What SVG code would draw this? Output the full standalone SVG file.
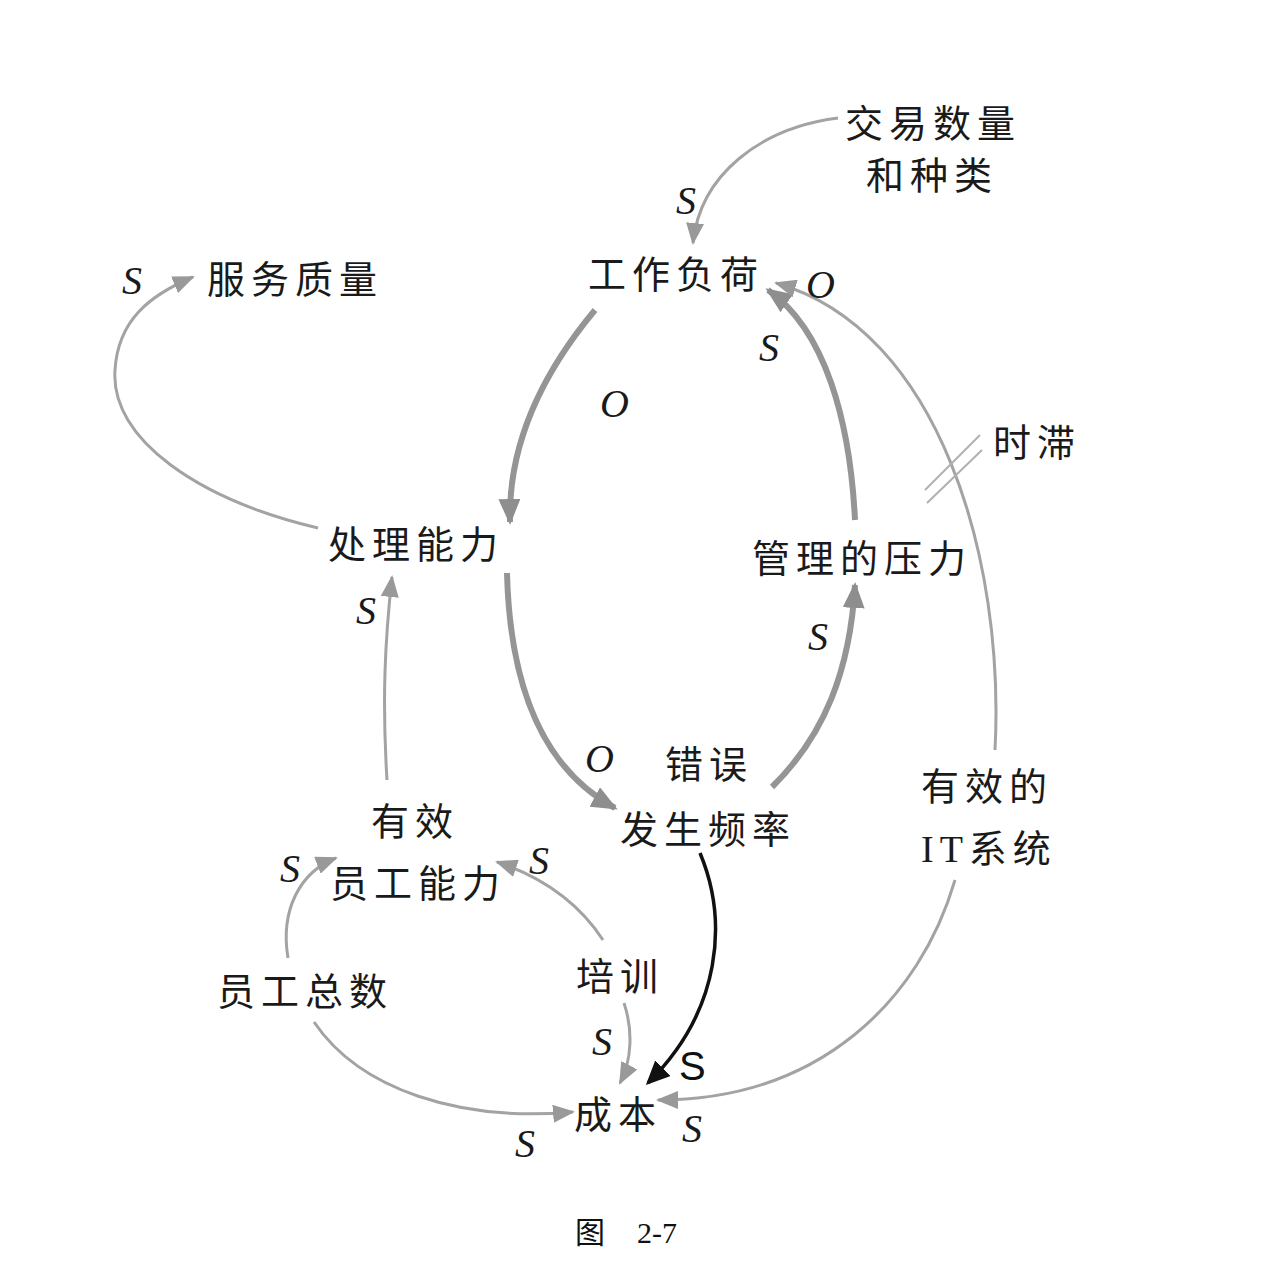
<svg xmlns="http://www.w3.org/2000/svg" width="1278" height="1270" viewBox="0 0 1278 1270">
<style>
.t{font-family:"Liberation Serif","Noto Sans CJK SC",serif;font-size:38px;letter-spacing:6px;fill:#1a1a1a}
.p{font-family:"Liberation Serif",serif;font-style:italic;font-size:40px;fill:#1a1a1a}
.thin{fill:none;stroke:#a3a3a3;stroke-width:3}
.thick{fill:none;stroke:#959595;stroke-width:6}
.blk{fill:none;stroke:#111;stroke-width:3.5}
.cap{font-family:"Liberation Serif","Noto Sans CJK SC",serif;font-size:30px;fill:#111}
</style>
<defs>
<marker id="a1" viewBox="0 0 22 18" refX="20" refY="9" markerWidth="22" markerHeight="18" markerUnits="userSpaceOnUse" orient="auto"><path d="M0,0 L22,9 L0,18 z" fill="#999"/></marker>
<marker id="a2" viewBox="0 0 26 22" refX="23" refY="11" markerWidth="26" markerHeight="22" markerUnits="userSpaceOnUse" orient="auto"><path d="M0,0 L26,11 L0,22 z" fill="#8e8e8e"/></marker>
<marker id="a3" viewBox="0 0 24 22" refX="21" refY="11" markerWidth="24" markerHeight="22" markerUnits="userSpaceOnUse" orient="auto"><path d="M0,0 L24,11 L0,22 z" fill="#111"/></marker>
</defs>
<rect width="1278" height="1270" fill="#fff"/>
<g id="connectors">
<path class="thin" d="M838,118 C760,128 700,175 693,243" marker-end="url(#a1)"/>
<path class="thick" d="M595,310 C545,370 508,440 510,522" marker-end="url(#a2)"/>
<path class="thick" d="M507,573 C510,690 545,770 615,808" marker-end="url(#a2)"/>
<path class="thick" d="M772,787 C825,735 850,670 855,585" marker-end="url(#a2)"/>
<path class="thick" d="M855,520 C850,420 825,330 768,290" marker-end="url(#a2)"/>
<path class="thin" d="M995,750 C1005,560 940,330 776,283" marker-end="url(#a1)"/>
<path class="thin" d="M318,528 C200,500 110,440 115,370 C118,320 150,295 193,277" marker-end="url(#a1)"/>
<path class="thin" d="M387,780 C382,700 385,640 392,577" marker-end="url(#a1)"/>
<path class="thin" d="M288,958 C280,910 300,872 336,858" marker-end="url(#a1)"/>
<path class="thin" d="M603,940 C580,905 545,878 497,862" marker-end="url(#a1)"/>
<path class="thin" d="M624,1003 C633,1030 632,1060 620,1083" marker-end="url(#a1)"/>
<path class="blk" d="M700,853 C728,920 722,1010 648,1083" marker-end="url(#a3)"/>
<path class="thin" d="M314,1022 C360,1090 460,1122 573,1112" marker-end="url(#a1)"/>
<path class="thin" d="M955,880 C920,1000 820,1100 658,1100" marker-end="url(#a1)"/>
<g id="delay" stroke="#b0b0b0" stroke-width="2">
<line x1="925" y1="490" x2="980" y2="435"/>
<line x1="927" y1="503" x2="982" y2="450"/>
</g>
</g>
<g id="polarities">
<text class="p" x="676" y="214">S</text>
<text class="p" x="806" y="298">O</text>
<text class="p" x="759" y="361">S</text>
<text class="p" x="600" y="417">O</text>
<text class="p" x="122" y="294">S</text>
<text class="p" x="356" y="624">S</text>
<text class="p" x="808" y="650">S</text>
<text class="p" x="585" y="772">O</text>
<text class="p" x="280" y="882">S</text>
<text class="p" x="529" y="874">S</text>
<text class="p" x="592" y="1055">S</text>
<text x="679" y="1080" style="font-family:'Liberation Sans',sans-serif;font-size:40px;fill:#111">S</text>
<text class="p" x="515" y="1157">S</text>
<text class="p" x="682" y="1142">S</text>
</g>
<g id="n-jiaoyi"><text class="t" x="845" y="137">交易数量</text><text class="t" x="866" y="189">和种类</text></g>
<g id="n-gongzuo"><text class="t" x="588" y="288">工作负荷</text></g>
<g id="n-fuwu"><text class="t" x="207" y="293">服务质量</text></g>
<g id="n-chuli"><text class="t" x="328" y="558">处理能力</text></g>
<g id="n-guanli"><text class="t" x="752" y="572">管理的压力</text></g>
<g id="n-shizhi"><text class="t" x="993" y="456">时滞</text></g>
<g id="n-cuowu"><text class="t" x="665" y="778">错误</text><text class="t" x="620" y="843">发生频率</text></g>
<g id="n-youxiao"><text class="t" x="371" y="835">有效</text><text class="t" x="330" y="897">员工能力</text></g>
<g id="n-it"><text class="t" x="921" y="800">有效的</text><text class="t" x="921" y="862" letter-spacing="2">IT系统</text></g>
<g id="n-zongshu"><text class="t" x="217" y="1005">员工总数</text></g>
<g id="n-peixun"><text class="t" x="576" y="990">培训</text></g>
<g id="n-chengben"><text class="t" x="574" y="1128">成本</text></g>
<g id="caption"><text class="cap" x="575" y="1243">图</text><text class="cap" x="637" y="1243">2-7</text></g>
</svg>
